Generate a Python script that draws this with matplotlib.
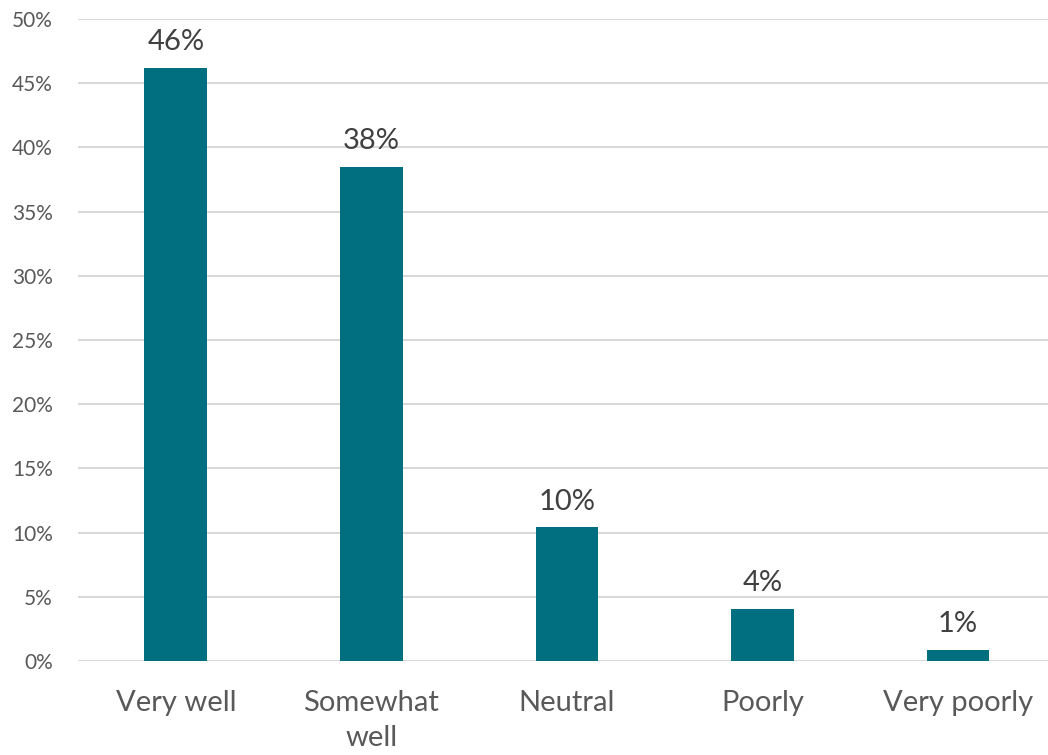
import numpy as np
import matplotlib.pyplot as plt

categories = ["Very well", "Somewhat\nwell", "Neutral", "Poorly", "Very poorly"]
values = [46.2, 38.5, 10.4, 4.05, 0.86]
labels = ["46%", "38%", "10%", "4%", "1%"]
yticks = [0, 5, 10, 15, 20, 25, 30, 35, 40, 45, 50]

plt.rcParams['font.family'] = ['Lato', 'DejaVu Sans']
text_color = "#595959"

fig = plt.figure(figsize=(10.48, 7.55), dpi=100)
ax = fig.add_axes([78 / 1048, 1 - 661 / 755, (1048 - 78) / 1048, 642 / 755])

x = np.arange(len(categories))
bars = ax.bar(x, values, width=0.32, color="#026F80", zorder=3)

for b, lab in zip(bars, labels):
    ax.text(b.get_x() + b.get_width() / 2, b.get_height() + 1.0, lab,
            ha="center", va="bottom", fontsize=21, color="#404040")

ax.set_xlim(-0.5, 4.46)
ax.set_ylim(0, 50)
ax.set_yticks(yticks)
ax.set_yticklabels([f"{t}%" for t in yticks], fontsize=15, color=text_color)
ax.set_xticks(x)
ax.set_xticklabels(categories, fontsize=21, color=text_color, linespacing=1.4)
ax.tick_params(axis="both", length=0)
ax.tick_params(axis="x", pad=21)
ax.tick_params(axis="y", pad=18)
ax.yaxis.grid(True, color="#d9d9d9", linewidth=1.5, zorder=0)
for s in ax.spines.values():
    s.set_visible(False)

fig.savefig("out.png", dpi=100)
